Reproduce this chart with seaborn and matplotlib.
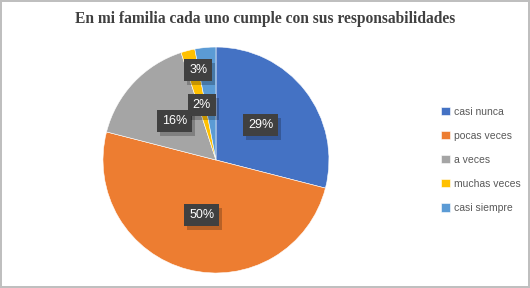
import matplotlib
matplotlib.use("Agg")
import matplotlib.pyplot as plt
import numpy as np
import seaborn as sns

title = "En mi familia cada uno cumple con sus responsabilidades"
categories = ["casi nunca", "pocas veces", "a veces", "muchas veces", "casi siempre"]
percentages = [29, 50, 16, 2, 3]
colors = ["#4472C4", "#ED7D31", "#A5A5A5", "#FFC000", "#5B9BD5"]


def main():
    sns.set_theme(style="white")
    plt.rcParams['font.family'] = ['Liberation Sans', 'DejaVu Sans']
    palette = sns.color_palette(colors)

    fig = plt.figure(figsize=(5.3, 2.88), dpi=100)
    fig.patch.set_facecolor("white")
    fig.patch.set_edgecolor("#BFBFBF")
    fig.patch.set_linewidth(1.5)

    ax = fig.add_axes([0.1943, 0.052, 0.4264, 0.7847])
    wedges, _ = ax.pie(percentages, colors=palette, startangle=90, counterclock=False,
                       radius=1.0, wedgeprops=dict(edgecolor="white", linewidth=0.4))
    ax.set_xlim(-1, 1)
    ax.set_ylim(-1, 1)
    ax.set_aspect("equal")
    ax.axis("off")

    # label boxes along each wedge's mid angle
    dists = [0.5, 0.5, 0.5, 0.5, 0.8]
    shifts = [(0, 0), (0, 0), (0, 0), (0, 0), (-0.08, 0)]
    for w, p, d, s in zip(wedges, percentages, dists, shifts):
        ang = np.deg2rad((w.theta1 + w.theta2) / 2)
        x = d * np.cos(ang) + s[0]
        y = d * np.sin(ang) + s[1]
        # shadow
        ax.text(x + 0.025, y - 0.035, f"{p}%", ha="center", va="center", fontsize=9,
                alpha=0.0,
                bbox=dict(boxstyle="square,pad=0.4", fc="#000000", ec="none", alpha=0.22))
        ax.text(x, y, f"{p}%", ha="center", va="center", fontsize=9, color="white",
                bbox=dict(boxstyle="square,pad=0.4", fc="#404040", ec="none"))

    fig.text(0.5, 0.935, title, ha="center", va="center", fontsize=11.2, fontweight="bold",
             family="Liberation Serif", color="#404040")

    fig.legend(wedges, categories, loc="center left", bbox_to_anchor=(0.815, 0.445),
               frameon=False, fontsize=7.5, handlelength=0.85, handleheight=0.85,
               handletextpad=0.35, labelspacing=1.35, labelcolor="#595959")

    fig.savefig("out.png", dpi=100, facecolor=fig.get_facecolor(), edgecolor=fig.get_edgecolor())


if __name__ == "__main__":
    main()
